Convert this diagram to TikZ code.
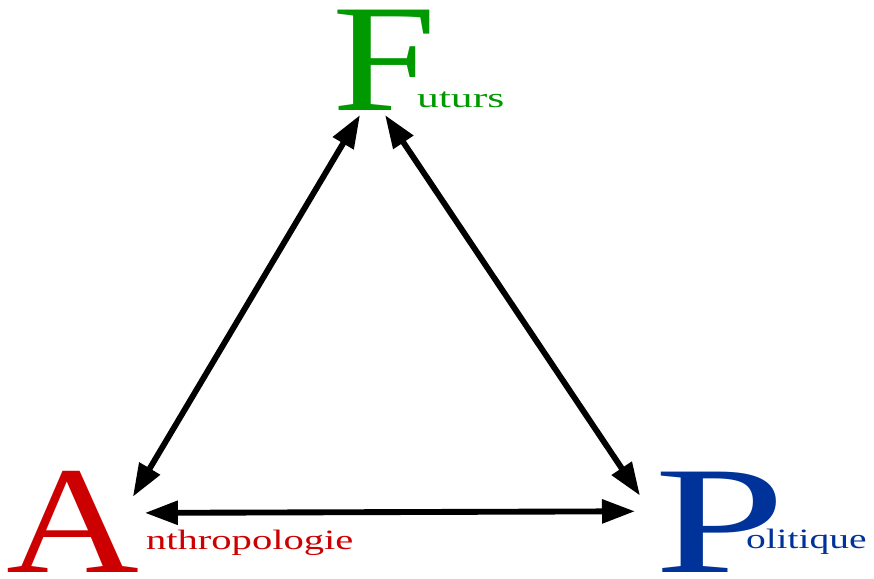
\documentclass[tikz,border=0pt]{standalone}
\usepackage{fontspec}
\setmainfont{Liberation Serif}
\usetikzlibrary{arrows.meta}

\definecolor{futgreen}{RGB}{0,153,0}
\definecolor{anthred}{RGB}{204,0,0}
\definecolor{polblue}{RGB}{0,51,153}

\tikzset{
	initial/.style={inner sep=0pt, outer sep=0pt, anchor=base west, font=\fontsize{115}{115}\selectfont},
	rest/.style={inner sep=0pt, outer sep=0pt, anchor=base west, font=\fontsize{21}{21}\selectfont},
	link/.style={line width=4.4pt, {Triangle[length=24.75pt,width=17.25pt]}-{Triangle[length=24.75pt,width=17.25pt]}}
}

\begin{document}
\begin{tikzpicture}[x=0.75pt, y=-0.75pt]
			\useasboundingbox (0,0) rectangle (874,578);
			\node[initial, text=futgreen] (F) at (332,110) {\scalebox{1.22}[1]{F}};
			\node[rest, text=futgreen] (futurs) at (417,107) {\scalebox{1.56}[1]{uturs}};
			\node[initial, text=anthred] (A) at (7,572) {\scalebox{1.2}[1]{A}};
			\node[rest, text=anthred] (anthro) at (146,549) {\scalebox{1.45}[1]{nthropologie}};
			\node[initial, text=polblue] (P) at (654,572) {\scalebox{1.54}[1]{P}};
			\node[rest, text=polblue] (polit) at (746,548) {\scalebox{1.41}[1]{olitique}};
			\draw[link] ([shift={(-7,26)}]A.north east) -- ([shift={(-24,5)}]F.south);
			\draw[link] ([shift={(1,5)}]F.south) -- ([shift={(-14,24)}]P.north west);
			\draw[link] ([shift={(5,-8.5)}]A.east) -- ([shift={(-19,-10.5)}]P.west);
		\end{tikzpicture}
\end{document}
